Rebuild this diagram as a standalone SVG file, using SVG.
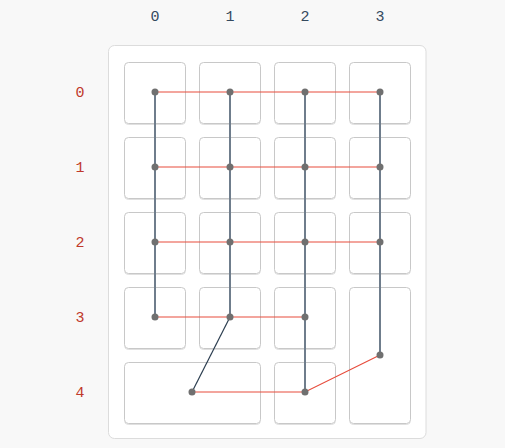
<svg xmlns="http://www.w3.org/2000/svg" width="505" height="448" viewBox="0 0 505 448">
<style>
.bg{fill:#f8f8f8}
.panel{fill:#fff;stroke:#dcdcdc;stroke-width:1}
.cell{fill:#fff;stroke:#c8c8c8;stroke-width:1}
.col{font-family:"Liberation Mono",monospace;font-size:15px;fill:#34495e;text-anchor:middle}
.row{font-family:"Liberation Mono",monospace;font-size:15px;fill:#c0392b;text-anchor:middle}
.v{stroke:#6f7d8c;stroke-width:2;fill:none}
.h{stroke:#e74c3c;stroke-width:1.2;fill:none}
.d{stroke:#2c3e50;stroke-width:1.2;fill:none}
.pt{fill:#707070}
</style>
<defs>
<filter id="sh" x="-10%" y="-10%" width="120%" height="120%">
<feDropShadow dx="0" dy="1" stdDeviation="0.3" flood-color="#000" flood-opacity="0.12"/>
</filter>
</defs>
<rect class="bg" x="0" y="0" width="505" height="448"/>
<g id="headers">
<text class="col" x="155" y="21">0</text>
<text class="col" x="230" y="21">1</text>
<text class="col" x="305" y="21">2</text>
<text class="col" x="380" y="21">3</text>
<text class="row" x="80" y="97">0</text>
<text class="row" x="80" y="172">1</text>
<text class="row" x="80" y="247">2</text>
<text class="row" x="80" y="322">3</text>
<text class="row" x="80" y="397">4</text>
</g>
<rect class="panel" x="108.5" y="45.5" width="317.5" height="393" rx="6"/>
<g id="cells" filter="url(#sh)">
<rect id="c00" class="cell" x="124.5" y="62.5" width="61" height="61" rx="4"/>
<rect id="c01" class="cell" x="199.5" y="62.5" width="61" height="61" rx="4"/>
<rect id="c02" class="cell" x="274.5" y="62.5" width="61" height="61" rx="4"/>
<rect id="c03" class="cell" x="349.5" y="62.5" width="61" height="61" rx="4"/>
<rect id="c10" class="cell" x="124.5" y="137.5" width="61" height="61" rx="4"/>
<rect id="c11" class="cell" x="199.5" y="137.5" width="61" height="61" rx="4"/>
<rect id="c12" class="cell" x="274.5" y="137.5" width="61" height="61" rx="4"/>
<rect id="c13" class="cell" x="349.5" y="137.5" width="61" height="61" rx="4"/>
<rect id="c20" class="cell" x="124.5" y="212.5" width="61" height="61" rx="4"/>
<rect id="c21" class="cell" x="199.5" y="212.5" width="61" height="61" rx="4"/>
<rect id="c22" class="cell" x="274.5" y="212.5" width="61" height="61" rx="4"/>
<rect id="c23" class="cell" x="349.5" y="212.5" width="61" height="61" rx="4"/>
<rect id="c30" class="cell" x="124.5" y="287.5" width="61" height="61" rx="4"/>
<rect id="c31" class="cell" x="199.5" y="287.5" width="61" height="61" rx="4"/>
<rect id="c32" class="cell" x="274.5" y="287.5" width="61" height="61" rx="4"/>
<rect id="c33" class="cell" x="349.5" y="287.5" width="61" height="136" rx="4"/>
<rect id="c40" class="cell" x="124.5" y="362.5" width="136" height="61" rx="4"/>
<rect id="c42" class="cell" x="274.5" y="362.5" width="61" height="61" rx="4"/>
</g>
<g id="connectors">
<path class="h" d="M155 92H380M155 167H380M155 242H380M155 317H305M192 392H305L380 355"/>
<path class="v" d="M155 92V317M230 92V317M305 92V392M380 92V355"/>
<path class="d" d="M230 317L192 392"/>
</g>
<g id="points">
<circle class="pt" cx="155" cy="92" r="3.5"/><circle class="pt" cx="230" cy="92" r="3.5"/><circle class="pt" cx="305" cy="92" r="3.5"/><circle class="pt" cx="380" cy="92" r="3.5"/>
<circle class="pt" cx="155" cy="167" r="3.5"/><circle class="pt" cx="230" cy="167" r="3.5"/><circle class="pt" cx="305" cy="167" r="3.5"/><circle class="pt" cx="380" cy="167" r="3.5"/>
<circle class="pt" cx="155" cy="242" r="3.5"/><circle class="pt" cx="230" cy="242" r="3.5"/><circle class="pt" cx="305" cy="242" r="3.5"/><circle class="pt" cx="380" cy="242" r="3.5"/>
<circle class="pt" cx="155" cy="317" r="3.5"/><circle class="pt" cx="230" cy="317" r="3.5"/><circle class="pt" cx="305" cy="317" r="3.5"/><circle class="pt" cx="380" cy="355" r="3.5"/>
<circle class="pt" cx="192" cy="392" r="3.5"/><circle class="pt" cx="305" cy="392" r="3.5"/>
</g>
</svg>
